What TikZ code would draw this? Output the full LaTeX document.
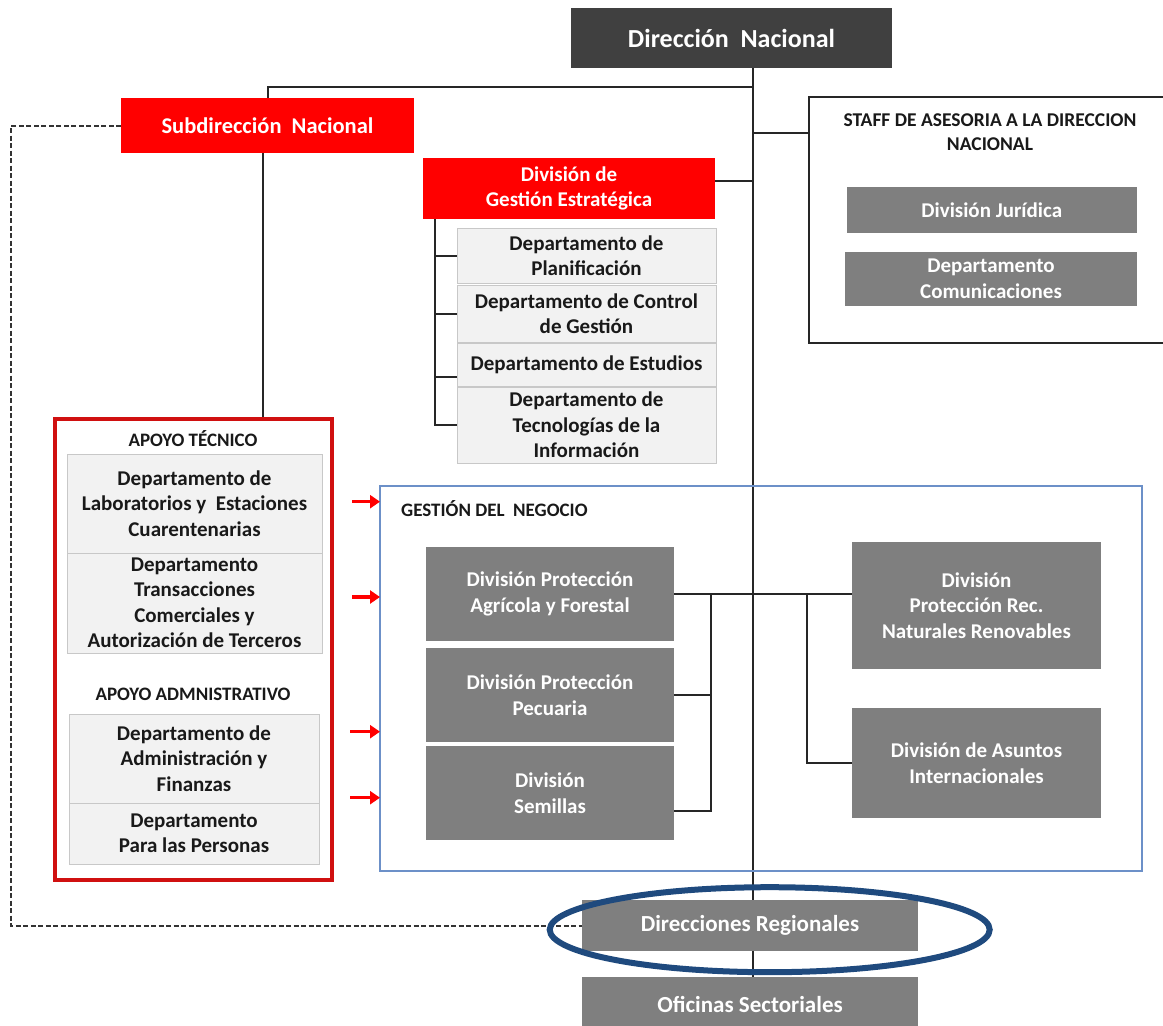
\documentclass[tikz,border=0pt]{standalone}
\usepackage{fontspec}
\setmainfont{Carlito}
\usetikzlibrary{shapes.geometric,arrows.meta,calc}
\pgfdeclarelayer{bg}
\pgfsetlayers{bg,main}
\definecolor{dngray}{HTML}{404040}
\definecolor{midgray}{HTML}{7F7F7F}
\definecolor{lightfill}{HTML}{F2F2F2}
\definecolor{lightline}{HTML}{C8C8C8}
\definecolor{apoyored}{HTML}{D01010}
\definecolor{gnblue}{HTML}{6C90C8}
\definecolor{ovalblue}{HTML}{1F4A7E}
\begin{document}
\begin{tikzpicture}[x=1pt,y=-1pt,
  base/.style={rectangle, inner sep=0pt, outer sep=0pt, align=center, anchor=north west,
    font=\bfseries\fontsize{21}{25.5}\selectfont},
  dnbox/.style={base, fill=dngray, text=white, font=\bfseries\fontsize{26}{30}\selectfont},
  redbox/.style={base, fill=red, text=white},
  graybox/.style={base, fill=midgray, text=white},
  deptbox/.style={base, fill=lightfill, draw=lightline, line width=1pt, text=black!90},
  seclabel/.style={inner sep=0pt, align=center, text=black!90, font=\bfseries\fontsize{19}{23.5}\selectfont},
  conn/.style={draw=black!85, line width=2pt},
  redarr/.style={draw=red, line width=3.5pt, -{Triangle[length=10pt,width=13pt]}},
  dashline/.style={draw=black!80, line width=2pt, dash pattern=on 5pt off 2.5pt}
]
\useasboundingbox (0,0) rectangle (1163,1026);

% top level
\node[dnbox, minimum width=321, minimum height=60] (dn) at (571,8) {Dirección\ \ Nacional};
\node[redbox, font=\bfseries\fontsize{22.5}{27}\selectfont, minimum width=293, minimum height=55] (sub) at (121,98) {Subdirección\ \ Nacional};
\node[redbox, minimum width=292, minimum height=61] (dge) at (423,158) {División de\\Gestión Estratégica};

% departments of DGE
\node[deptbox, minimum width=259, minimum height=55] (d1) at (457,228) {Departamento de\\Planificación};
\node[deptbox, minimum width=259, minimum height=57] (d2) at (457,285) {Departamento de Control\\de Gestión};
\node[deptbox, minimum width=259, minimum height=43] (d3) at (457,343) {Departamento de Estudios};
\node[deptbox, minimum width=259, minimum height=76] (d4) at (457,387) {Departamento de\\Tecnologías de la\\Información};

% staff
\node[base, draw=black!85, line width=2pt, minimum width=365, minimum height=246] (staff) at (809,97) {};
\node[seclabel, font=\bfseries\fontsize{19.5}{23.5}\selectfont] (stafft) at (990,132.4) {STAFF DE ASESORIA A LA DIRECCION\\NACIONAL};
\node[graybox, minimum width=290.5, minimum height=46] (jur) at (846.5,187) {División Jurídica};
\node[graybox, minimum width=292, minimum height=54] (com) at (845,252) {Departamento\\Comunicaciones};

% apoyo
\node[base, draw=apoyored, line width=3.5pt, minimum width=277, minimum height=461] (apoyo) at (55,419) {};
\node[seclabel] (at) at (193,439) {APOYO TÉCNICO};
\node[deptbox, minimum width=255, minimum height=99] (lab) at (67,454) {Departamento de\\Laboratorios y\ \ Estaciones\\Cuarentenarias};
\node[deptbox, minimum width=255, minimum height=100] (tra) at (67,553) {Departamento\\Transacciones\\Comerciales y\\Autorización de Terceros};
\node[seclabel] (aa) at (193,694) {APOYO ADMNISTRATIVO};
\node[deptbox, minimum width=250, minimum height=89] (adm) at (69,714) {Departamento de\\Administración y\\Finanzas};
\node[deptbox, minimum width=250, minimum height=61] (per) at (69,803) {Departamento\\Para las Personas};

% gestion del negocio
\node[base, draw=gnblue, line width=1.8pt, minimum width=762, minimum height=385] (gn) at (380,486) {};
\node[seclabel, anchor=west] (gnt) at (401,509) {GESTIÓN DEL\ \ NEGOCIO};
\node[graybox, minimum width=248, minimum height=94] (agr) at (426,547) {División Protección\\Agrícola y Forestal};
\node[graybox, minimum width=248, minimum height=94] (pec) at (426,648) {División Protección\\Pecuaria};
\node[graybox, minimum width=248, minimum height=94] (sem) at (426,746) {División\\Semillas};
\node[graybox, minimum width=249, minimum height=127] (rec) at (852,542) {División\\Protección Rec.\\Naturales Renovables};
\node[graybox, minimum width=249, minimum height=110] (ai) at (852,708) {División de Asuntos\\Internacionales};

% regional
\node[graybox, font=\bfseries\fontsize{23}{27}\selectfont, minimum width=336, minimum height=51] (dr) at (582,900) {Direcciones Regionales};
\node[graybox, font=\bfseries\fontsize{23}{27}\selectfont, minimum width=336, minimum height=55] (ofi) at (582,977) {Oficinas Sectoriales};

\node[ellipse, draw=ovalblue, line width=6pt, minimum width=440, minimum height=85, inner sep=0pt] (hl) at (769.7,929.7) {};

% red arrows
\coordinate (a1) at (352,501.7);
\coordinate (a2) at (352,597);
\coordinate (a3) at (350,731.7);
\coordinate (a4) at (350,797.7);
\draw[redarr] (a1) -- (a1 -| gn.west);
\draw[redarr] (a2) -- (a2 -| gn.west);
\draw[redarr] (a3) -- (a3 -| gn.west);
\draw[redarr] (a4) -- (a4 -| gn.west);

\begin{pgfonlayer}{bg}
\coordinate (mtop) at ([xshift=21.5pt]dn.south);
\draw[conn] (mtop) -- (mtop |- ofi.north);
\coordinate (j1) at ($(mtop)+(0,18.7)$);
\draw[conn] (sub.north) |- (j1);
\draw[conn] ([xshift=-4.5pt]sub.south) -- ([xshift=-4.5pt]sub.south |- apoyo.north);
\draw[conn] ([yshift=7.5pt]dge.east) -- ([yshift=7.5pt]dge.east -| mtop);
\draw[conn] ([yshift=86.7pt]staff.west) -- ([yshift=86.7pt]staff.west -| mtop);
% DGE tree
\coordinate (dt) at ([xshift=12pt]dge.south west);
\draw[conn] (dt) |- (d4.west);
\draw[conn] (d1.west) -- (d1.west -| dt);
\draw[conn] (d2.west) -- (d2.west -| dt);
\draw[conn] ([yshift=-12pt]d3.west) -- ([yshift=-12pt]d3.west -| dt);
% gestion tree
\draw[conn] (agr.east) -- (agr.east -| rec.west);
\coordinate (gb) at ([xshift=36.7pt]agr.east);
\draw[conn] (pec.east) -- (pec.east -| gb);
\draw[conn] ([yshift=-18pt]sem.east) -| (gb);
\coordinate (rb) at ([xshift=-44.7pt]agr.east -| rec.west);
\draw[conn] (ai.west) -| (rb);
% dashed link
\coordinate (dl) at (11,500);
\draw[dashline] (sub.west) -| (dl) |- (dr.west);
\end{pgfonlayer}
\end{tikzpicture}
\end{document}
